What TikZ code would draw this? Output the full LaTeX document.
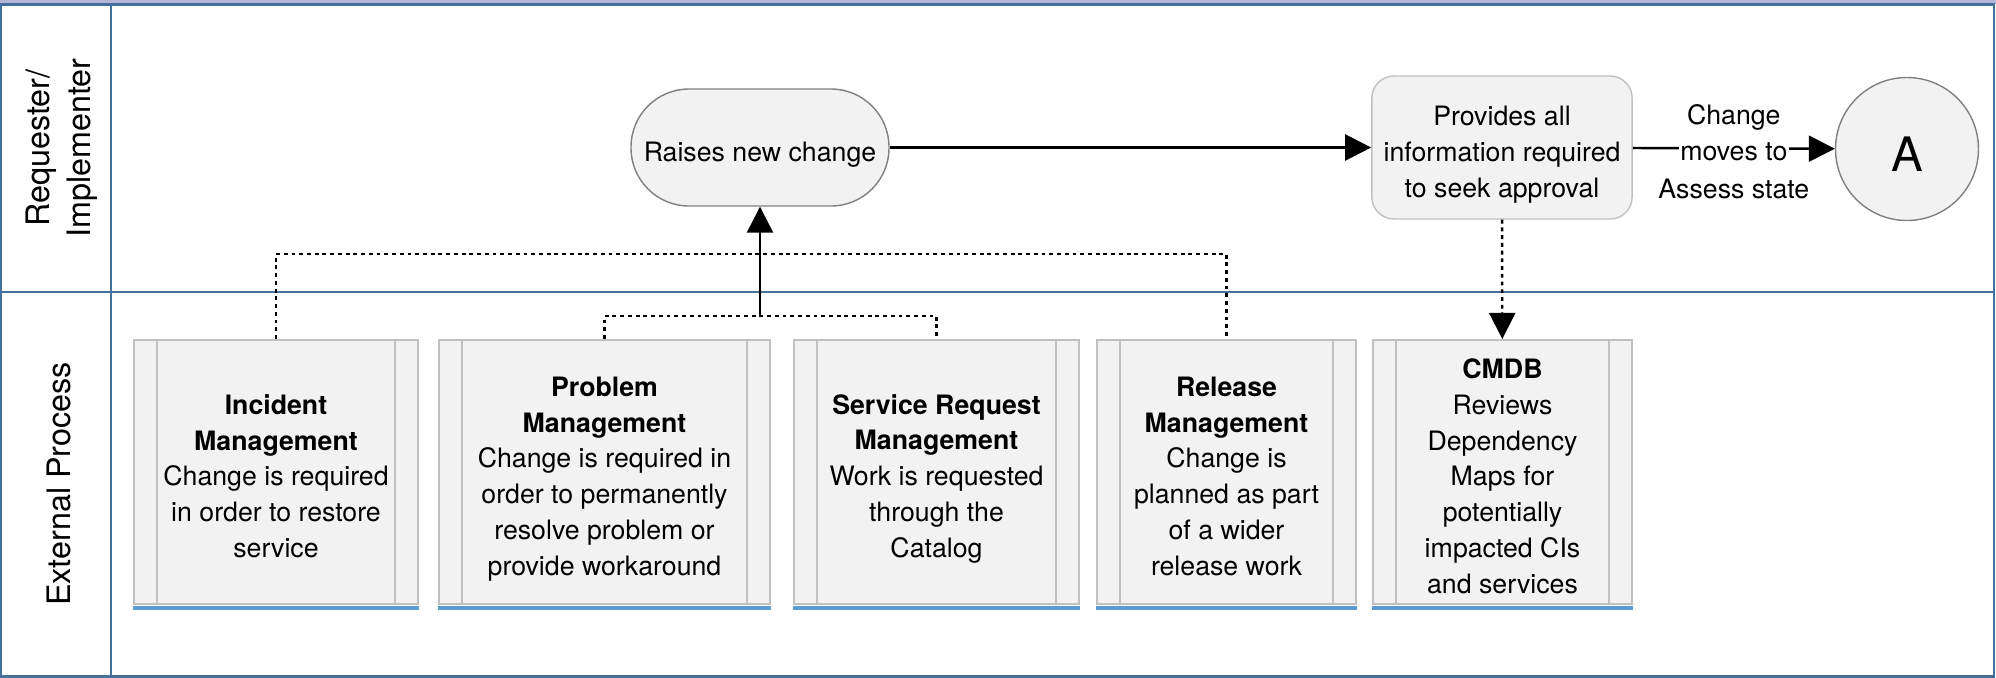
\documentclass[tikz,border=0pt]{standalone}
\usepackage{fontspec}
\setmainfont{TeX Gyre Heros}
\usetikzlibrary{positioning, arrows.meta}

\definecolor{lanecol}{RGB}{65,113,156}
\definecolor{topband}{RGB}{180,180,216}
\definecolor{boxfill}{RGB}{242,242,242}
\definecolor{boxline}{RGB}{192,192,192}
\definecolor{barblue}{RGB}{91,155,213}

\newcommand{\tstrut}{\rule{0pt}{9.5pt}}

\tikzset{
  lbl/.style={font=\fontsize{7.6}{10.2}\selectfont},
  txt/.style={lbl, align=center,
              execute at end node={\rule[-1.6pt]{0pt}{0pt}}},
  stadium/.style={txt, draw=gray, fill=boxfill, rounded corners=0.58cm,
                  minimum width=2.58cm, minimum height=1.17cm},
  rbox/.style={txt, draw=boxline, fill=boxfill, rounded corners=0.22cm,
               minimum width=2.6cm, minimum height=1.43cm},
  proc/.style={txt, draw=boxline, fill=boxfill, line width=0.6pt,
               minimum height=2.64cm, inner sep=0pt},
  bar/.style={draw=boxline, line width=0.6pt},
  bluebar/.style={draw=barblue, line width=1.1pt},
  flow/.style={line width=0.7pt, -{Triangle[length=0.26cm, width=0.26cm]}},
  dotline/.style={line width=0.7pt, dash pattern=on 1.1pt off 1.1pt},
  lane/.style={draw=lanecol, line width=0.7pt},
  lanelabel/.style={rotate=90, align=center, font=\fontsize{9.2}{11.8}\selectfont}
}

\begin{document}
\begin{tikzpicture}
          \useasboundingbox (0,0) rectangle (19.96,-6.78);
          \fill[topband] (0,0) rectangle (19.96,-0.04);
          \draw[lane] (0.01,-0.045) rectangle (19.94,-6.765);
          \draw[lane] (1.11,-0.045) -- (1.11,-6.765);
          \draw[lane] (0.01,-2.92) -- (19.94,-2.92);

          \node[lanelabel] (l1) at (0.615,-1.48) {Requester/\\Implementer};
          \node[lanelabel] (l2) at (0.59,-4.84) {External Process};

          \node[stadium] (raise) at (7.60,-1.475) {\tstrut Raises new change};
          \node[rbox] (info) at (15.02,-1.475) {\tstrut Provides all\\information required\\to seek approval};
          \node[circle, draw=gray, fill=boxfill, minimum size=1.43cm,
                font=\fontsize{13.5}{16}\selectfont] (a) at (19.07,-1.49) {\rule{0pt}{12.6pt}A};

          \node[proc, minimum width=2.84cm] (inc)  at (2.76,-4.72)
               {\tstrut\textbf{Incident}\\\textbf{Management}\\Change is required\\in order to restore\\service};
          \node[proc, minimum width=3.31cm] (prob) at (6.045,-4.72)
               {\tstrut\textbf{Problem}\\\textbf{Management}\\Change is required in\\order to permanently\\resolve problem or\\provide workaround};
          \node[proc, minimum width=2.85cm] (srv)  at (9.365,-4.72)
               {\tstrut\textbf{Service Request}\\\textbf{Management}\\Work is requested\\through the\\Catalog};
          \node[proc, minimum width=2.59cm] (rel)  at (12.265,-4.72)
               {\tstrut\textbf{Release}\\\textbf{Management}\\Change is\\planned as part\\of a wider\\release work};
          \node[proc, minimum width=2.59cm] (cmdb) at (15.025,-4.72)
               {\tstrut\textbf{CMDB}\\Reviews\\Dependency\\Maps for\\potentially\\impacted CIs\\and services};

          \foreach \n in {inc,prob,srv,rel,cmdb} {
            \draw[bar] ([xshift=0.24cm]\n.north west) -- ([xshift=0.24cm]\n.south west);
            \draw[bar] ([xshift=-0.24cm]\n.north east) -- ([xshift=-0.24cm]\n.south east);
            \draw[bluebar] ([yshift=-0.03cm]\n.south west) -- ([yshift=-0.03cm]\n.south east);
          }

          \coordinate (hi) at (7.60,-2.54);
          \coordinate (lo) at (7.60,-3.16);

          \draw[dotline] (inc.north) -- (inc.north |- hi) -| (rel.north);
          \draw[dotline] (prob.north) -- (prob.north |- lo) -| (srv.north);
          \draw[flow] (raise.south |- lo) -- (raise.south);
          \draw[flow] (raise) -- (info);
          \draw[flow] (info) -- node[lbl, fill=white, inner sep=0.5pt, yshift=-0.03cm,
                label={[lbl, inner sep=0pt, yshift=0.075cm]above:Change},
                label={[lbl, inner sep=0pt, yshift=-0.147cm]below:Assess state}] (move) {moves to} (a);
          \draw[dotline, -{Triangle[length=0.26cm, width=0.26cm]}] (info) -- (cmdb);
        \end{tikzpicture}
\end{document}
